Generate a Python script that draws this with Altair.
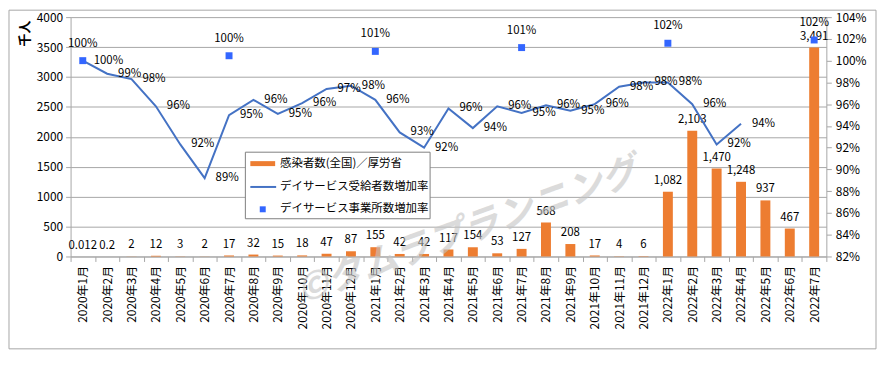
import altair as alt
import pandas as pd

FONT = "Noto Sans CJK JP"

months = ["2020年1月", "2020年2月", "2020年3月", "2020年4月", "2020年5月", "2020年6月",
          "2020年7月", "2020年8月", "2020年9月", "2020年10月", "2020年11月", "2020年12月",
          "2021年1月", "2021年2月", "2021年3月", "2021年4月", "2021年5月", "2021年6月",
          "2021年7月", "2021年8月", "2021年9月", "2021年10月", "2021年11月", "2021年12月",
          "2022年1月", "2022年2月", "2022年3月", "2022年4月", "2022年5月", "2022年6月",
          "2022年7月"]
cases = [0.012, 0.2, 2, 12, 3, 2, 17, 32, 15, 18, 47, 87,
         155, 42, 42, 117, 154, 53, 127, 568, 208, 17, 4, 6,
         1082, 2103, 1470, 1248, 937, 467, 3491]
users_rate = [100.0, 98.8, 98.3, 95.8, 92.3, 89.2, 95.0, 96.4, 95.1, 96.1, 97.4, 97.7,
              96.4, 93.4, 92.0, 95.6, 93.8, 95.8, 95.2, 95.9, 95.4, 96.0, 97.6, 98.0,
              98.0, 96.0, 92.3, 94.2, None, None, None]
office_months = ["2020年1月", "2020年7月", "2021年1月", "2021年7月", "2022年1月", "2022年7月"]
office_rate = [100.0, 100.45, 100.85, 101.2, 101.6, 101.9]
legend_labels = ["感染者数(全国)／厚労省", "デイサービス受給者数増加率", "デイサービス事業所数増加率"]
watermark = ["©タムラプランニング"]
left_ticks = [0, 500, 1000, 1500, 2000, 2500, 3000, 3500, 4000]
right_ticks = [82, 84, 86, 88, 90, 92, 94, 96, 98, 100, 102, 104]

ORANGE = "#ED7D31"
LINE_BLUE = "#4472C4"
SQ_BLUE = "#3366FF"
GRID = "#a6a6a6"

W, H = 761, 241

bars_df = pd.DataFrame({"month": months, "cases": cases})
line_df = pd.DataFrame({"month": months, "rate": users_rate}).dropna()
office_df = pd.DataFrame({"month": office_months, "rate": office_rate})

X = alt.X("month:N", sort=months,
          scale=alt.Scale(domain=months, paddingInner=0, paddingOuter=0),
          axis=alt.Axis(title=None, labelAngle=270, labelAlign="right", labelBaseline="middle",
                        labelFontSize=12, labelPadding=4, tickBand="extent", tickSize=5,
                        tickColor=GRID, domainColor=GRID, labelColor="#000000"))

Y_left = alt.Y("cases:Q", scale=alt.Scale(domain=[0, 4000], nice=False),
               axis=alt.Axis(orient="left", values=left_ticks, title="千人", format="d",
                             grid=True, gridColor=GRID, tickColor=GRID, domainColor=GRID,
                             tickSize=5, labelPadding=3, labelFontSize=12,
                             titleAngle=270, titleAlign="right", titleBaseline="middle",
                             titleX=-46, titleY=3, titleFontSize=13, titleFontWeight="bold"))

Y_right = alt.Y("rate:Q", scale=alt.Scale(domain=[82, 104], nice=False),
                axis=alt.Axis(orient="right", values=right_ticks, title=None, grid=False,
                              labelExpr="datum.value + '%'", tickColor=GRID, domainColor=GRID,
                              tickSize=5, labelPadding=4, labelFontSize=12))

bars = alt.Chart(bars_df).mark_bar(color=ORANGE, size=10).encode(x=X, y=Y_left)
bar_labels = alt.Chart(bars_df).transform_calculate(
    lab="format(datum.cases, ',')"
).mark_text(font=FONT, fontSize=11.5, baseline="bottom", dy=-6, color="#000000").encode(
    x=X, y=Y_left, text="lab:N")
left = alt.layer(bars, bar_labels)

line = alt.Chart(line_df).mark_line(color=LINE_BLUE, strokeWidth=2).encode(x=X, y=Y_right)
line_labels = alt.Chart(line_df).transform_calculate(
    lab="format(datum.rate, '.0f') + '%'"
).mark_text(font=FONT, fontSize=11.5, align="left", baseline="middle", dx=11,
            color="#000000").encode(x=X, y=Y_right, text="lab:N")
squares = alt.Chart(office_df).mark_square(color=SQ_BLUE, size=49, opacity=1).encode(x=X, y=Y_right)
square_labels = alt.Chart(office_df).transform_calculate(
    lab="format(datum.rate, '.0f') + '%'"
).mark_text(font=FONT, fontSize=11.5, baseline="middle", dy=-17, color="#000000").encode(
    x=X, y=Y_right, text="lab:N")
right = alt.layer(line, line_labels, squares, square_labels)

wm = alt.Chart(pd.DataFrame({"t": watermark})).mark_text(
    font=FONT, fontSize=37, fontWeight="bold", fontStyle="italic", angle=340,
    color="#c4c4c4", opacity=0.6
).encode(x=alt.value(400), y=alt.value(216), text="t:N")

one = pd.DataFrame({"k": [0]})
leg_box = alt.Chart(one).mark_rect(fill="#ffffff", stroke="#7f7f7f", strokeWidth=1).encode(
    x=alt.value(176), x2=alt.value(362), y=alt.value(136), y2=alt.value(203))
leg_bar = alt.Chart(one).mark_rect(color=ORANGE).encode(
    x=alt.value(181), x2=alt.value(206), y=alt.value(145), y2=alt.value(150))
leg_line = alt.Chart(one).mark_rule(color=LINE_BLUE, strokeWidth=2).encode(
    x=alt.value(181), x2=alt.value(207), y=alt.value(171))
leg_sq = alt.Chart(one).mark_square(color=SQ_BLUE, size=36, opacity=1).encode(
    x=alt.value(193.5), y=alt.value(193.5))
leg_df = pd.DataFrame({"label": legend_labels, "ypos": [147.5, 171, 193.5]})
leg_text = alt.Chart(leg_df).mark_text(font=FONT, fontSize=11.5, align="left",
                                       baseline="middle", color="#000000").encode(
    x=alt.value(211), y=alt.Y("ypos:Q", scale=None), text="label:N")

border = alt.Chart(one).mark_rect(filled=False, stroke=GRID, strokeWidth=1).encode(
    x=alt.value(-62), x2=alt.value(811), y=alt.value(-7), y2=alt.value(334))

chart = alt.layer(
    left, wm, right, leg_box, leg_bar, leg_line, leg_sq, leg_text, border
).resolve_scale(y="independent").properties(
    width=W, height=H,
    autosize=alt.AutoSizeParams(type="none"),
    padding={"left": 63, "top": 8, "right": 51, "bottom": 96},
).configure_view(strokeWidth=0).configure_axis(
    labelFont=FONT, titleFont=FONT, labelColor="#000000", titleColor="#000000"
).configure_text(font=FONT)

chart.save("out.html", embed_options={"renderer": "svg", "actions": False})
